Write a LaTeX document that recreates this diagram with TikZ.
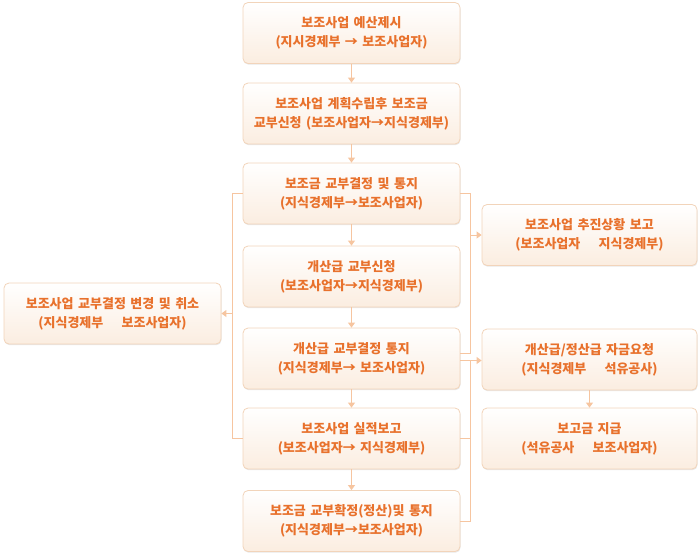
\documentclass[tikz,border=0pt]{standalone}
\usepackage{fontspec}
\setmainfont{Noto Sans CJK KR}[WordSpace=1.5]
\usetikzlibrary{shadows,arrows.meta}
\definecolor{txt}{HTML}{E8712C}
\definecolor{ln}{HTML}{F6C5A0}
\definecolor{bd}{HTML}{F2D4BA}
\definecolor{fillb}{HTML}{FBEDE0}
\begin{document}
\begin{tikzpicture}[x=1pt,y=-1pt,
  box/.style={draw=bd, line width=0.8pt, rounded corners=5pt, top color=white, bottom color=fillb,
    minimum width=217pt, minimum height=61pt, text=txt, align=center,
    font=\bfseries\fontsize{13}{19}\selectfont, inner sep=0pt,
    execute at begin node={\rule{0pt}{16pt}},
    drop shadow={shadow xshift=0.5pt, shadow yshift=-1.2pt, fill=black!25, opacity=0.35}},
  con/.style={draw=ln, line width=0.9pt},
  arr/.style={con, -{Triangle[width=7pt,length=5pt]}}]
\useasboundingbox (0,0) rectangle (700,555);
\newcommand{\gapp}{\hspace{1.4em}}
% centre column
\node[box] (b1) at (351.5,33)  {보조사업 예산제시\\(지시경제부 → 보조사업자)};
\node[box] (b2) at (351.5,113.5) {보조사업 계획수립후 보조금\\교부신청 (보조사업자→지식경제부)};
\node[box] (b3) at (351.5,193.5) {보조금 교부결정 및 통지\\(지식경제부→보조사업자)};
\node[box] (b4) at (351.5,276.5) {개산급 교부신청\\(보조사업자→지식경제부)};
\node[box] (b5) at (351.5,358.5) {개산급 교부결정 통지\\(지식경제부→ 보조사업자)};
\node[box] (b6) at (351.5,438.5) {보조사업 실적보고\\(보조사업자→ 지식경제부)};
\node[box] (b7) at (351.5,521) {보조금 교부확정(정산)및 통지\\(지식경제부→보조사업자)};
% left
\node[box] (L) at (112.5,313.5) {보조사업 교부결정 변경 및 취소\\(지식경제부\gapp 보조사업자)};
% right
\node[box, minimum width=215pt] (R1) at (589.5,235) {보조사업 추진상황 보고\\(보조사업자\gapp 지식경제부)};
\node[box, minimum width=215pt] (R2) at (589.5,359.5) {개산급/정산급 자금요청\\(지식경제부\gapp 석유공사)};
\node[box, minimum width=215pt] (R3) at (589.5,438.5) {보고금 지급\\(석유공사\gapp 보조사업자)};
% vertical arrows
\draw[arr] (b1) -- (b2);
\draw[arr] (b2) -- (b3);
\draw[arr] (b3) -- (b4);
\draw[arr] (b4) -- (b5);
\draw[arr] (b5) -- (b6);
\draw[arr] (b6) -- (b7);
\draw[arr] (R2) -- (R3);
% left bracket
\coordinate (lx) at (232,0);
\draw[con] (b3.west) -- (lx |- b3.west) -- (lx |- b6.west) -- (b6.west);
\draw[arr] (lx |- L.east) -- (L.east);
% right brackets
\coordinate (rx) at (470,0);
\coordinate (b5u) at ([yshift=5pt]b5.east);
\coordinate (b5d) at ([yshift=-2pt]b5.east);
\draw[con] (b3.east) -- (rx |- b3.east) -- (rx |- b5u) -- (b5u);
\draw[arr] (rx |- R1.west) -- (R1.west);
\draw[con] (b5d) -- (rx |- b5d) -- (rx |- b7.east) -- (b7.east);
\draw[con] (b6.east) -- (rx |- b6.east);
\draw[arr] (b5d) -- (b5d -| R2.west);
\end{tikzpicture}
\end{document}
